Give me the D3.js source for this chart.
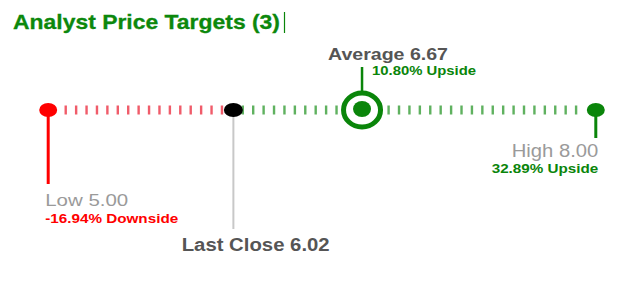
<!DOCTYPE html>
<html>
<head>
<meta charset="utf-8">
<script src="https://cdn.jsdelivr.net/npm/d3@7/dist/d3.min.js"></script>
<style>
  html, body { margin: 0; padding: 0; background: #fff; }
  svg { display: block; }
  text { font-family: "Liberation Sans", Arial, sans-serif; }
</style>
</head>
<body>
<svg id="chart" width="620" height="282"></svg>
<script>
// ---- data ----
const title = "Analyst Price Targets (3)";
const pointNames = ["Low", "Last Close", "Average", "High"];
const pointValues = [5.00, 6.02, 6.67, 8.00];
const changeLabels = ["-16.94% Downside", "", "10.80% Upside", "32.89% Upside"];
const domainExtent = [5.00, 8.00];
const dashCount = 50;
const dashFirst = 5.096;
const dashLast = 7.892;

const fmt = d3.format(".2f");
const GREEN = "#0a850a";
const RED = "#ff0000";

const svg = d3.select("#chart");
const x = d3.scaleLinear().domain(domainExtent).range([48.2, 595.8]);
const cy = 110;

const low = pointValues[0], last = pointValues[1], avg = pointValues[2], high = pointValues[3];

// title
svg.append("text")
  .attr("x", 13).attr("y", 28.5)
  .attr("font-size", 21).attr("font-weight", "bold")
  .attr("fill", "#0c880c").attr("stroke", "#0c880c").attr("stroke-width", 0.3)
  .attr("textLength", 267).attr("lengthAdjust", "spacingAndGlyphs")
  .text(title);
svg.append("line")
  .attr("x1", 284.5).attr("x2", 284.5).attr("y1", 12).attr("y2", 33)
  .attr("stroke", GREEN).attr("stroke-width", 1.2);

// dashes
const dashVals = d3.range(dashCount).map(i => dashFirst + (dashLast - dashFirst) * i / (dashCount - 1));
svg.append("g").selectAll("rect").data(dashVals).join("rect")
  .attr("x", d => x(d) - 1.2).attr("y", cy - 4.5)
  .attr("width", 2.4).attr("height", 9)
  .attr("fill", d => x(d) < x(last) ? "#ee4a5a" : "#4ea84e")
  .attr("opacity", 0.9);

// Low
svg.append("line").attr("x1", x(low)).attr("x2", x(low)).attr("y1", cy).attr("y2", 184)
  .attr("stroke", RED).attr("stroke-width", 3);
svg.append("ellipse").attr("cx", x(low)).attr("cy", cy).attr("rx", 9).attr("ry", 7).attr("fill", RED);
svg.append("text").attr("x", x(low) - 3).attr("y", 206)
  .attr("font-size", 16.5).attr("fill", "#9a9a9a")
  .attr("textLength", 83).attr("lengthAdjust", "spacingAndGlyphs")
  .text(pointNames[0] + " " + fmt(low));
svg.append("text").attr("x", x(low) - 3).attr("y", 222.5)
  .attr("font-size", 12.5).attr("font-weight", "bold").attr("fill", "#f00")
  .attr("textLength", 133).attr("lengthAdjust", "spacingAndGlyphs")
  .text(changeLabels[0]);

// Last close
svg.append("line").attr("x1", x(last) - 1).attr("x2", x(last) - 1).attr("y1", cy).attr("y2", 229)
  .attr("stroke", "#c8c8c8").attr("stroke-width", 2);
svg.append("ellipse").attr("cx", x(last) - 1).attr("cy", cy).attr("rx", 9.5).attr("ry", 7).attr("fill", "#000");
svg.append("text").attr("x", x(last) - 52.7).attr("y", 251)
  .attr("font-size", 17.5).attr("font-weight", "bold").attr("fill", "#555")
  .attr("textLength", 148).attr("lengthAdjust", "spacingAndGlyphs")
  .text(pointNames[1] + " " + fmt(last));

// Average
const ax = x(avg) + 9;
svg.append("line").attr("x1", ax).attr("x2", ax).attr("y1", 67).attr("y2", 93)
  .attr("stroke", GREEN).attr("stroke-width", 2.5);
svg.append("ellipse").attr("cx", ax).attr("cy", cy).attr("rx", 18.5).attr("ry", 17)
  .attr("fill", "#fff").attr("stroke", GREEN).attr("stroke-width", 5);
svg.append("ellipse").attr("cx", ax).attr("cy", cy - 1).attr("rx", 9).attr("ry", 8).attr("fill", GREEN);
svg.append("text").attr("x", ax - 34).attr("y", 60)
  .attr("font-size", 16.5).attr("font-weight", "bold").attr("fill", "#555")
  .attr("textLength", 120).attr("lengthAdjust", "spacingAndGlyphs")
  .text(pointNames[2] + " " + fmt(avg));
svg.append("text").attr("x", ax + 10).attr("y", 74.5)
  .attr("font-size", 12).attr("font-weight", "bold").attr("fill", GREEN)
  .attr("textLength", 104).attr("lengthAdjust", "spacingAndGlyphs")
  .text(changeLabels[2]);

// High
svg.append("line").attr("x1", x(high)).attr("x2", x(high)).attr("y1", cy).attr("y2", 138)
  .attr("stroke", GREEN).attr("stroke-width", 3);
svg.append("ellipse").attr("cx", x(high)).attr("cy", cy).attr("rx", 9).attr("ry", 7).attr("fill", GREEN);
svg.append("text").attr("x", x(high) + 2.5).attr("y", 156.5)
  .attr("text-anchor", "end")
  .attr("font-size", 17.5).attr("fill", "#9a9a9a")
  .attr("textLength", 86.6).attr("lengthAdjust", "spacingAndGlyphs")
  .text(pointNames[3] + " " + fmt(high));
svg.append("text").attr("x", x(high) + 2.5).attr("y", 173.3)
  .attr("text-anchor", "end")
  .attr("font-size", 12.5).attr("font-weight", "bold").attr("fill", GREEN)
  .attr("textLength", 106.6).attr("lengthAdjust", "spacingAndGlyphs")
  .text(changeLabels[3]);
</script>
</body>
</html>
